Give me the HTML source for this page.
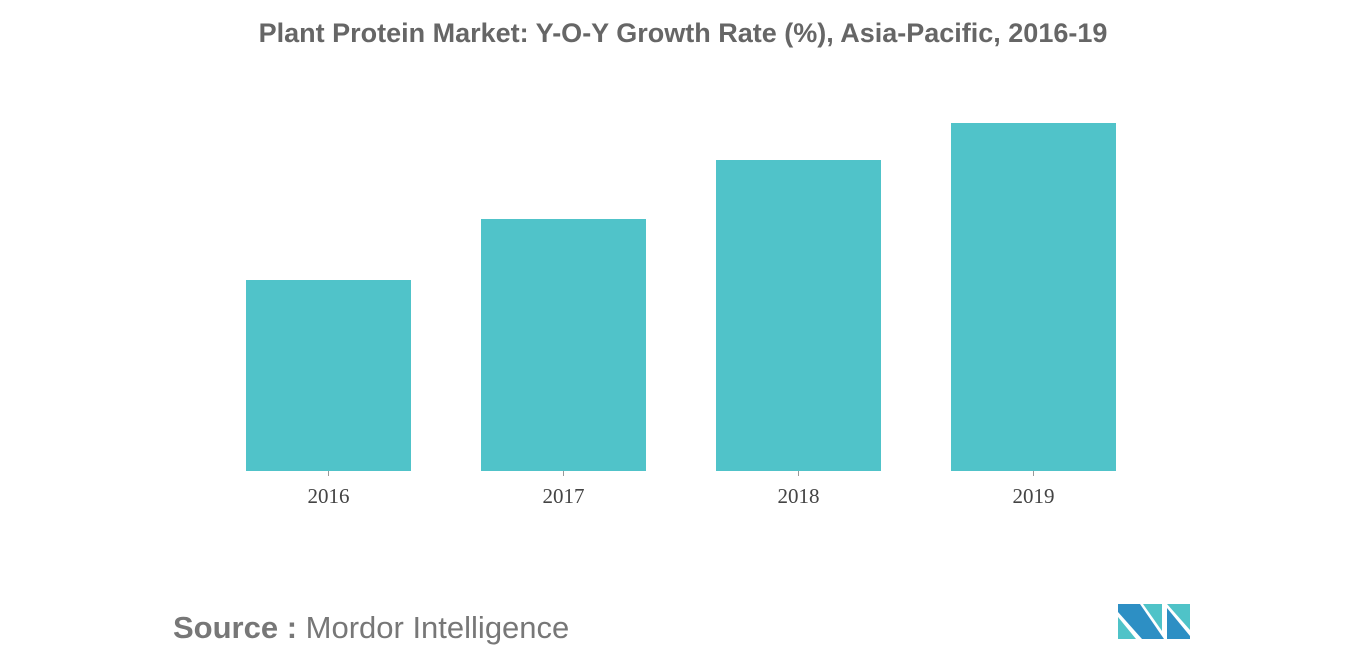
<!DOCTYPE html>
<html><head><meta charset="utf-8"><style>
body{margin:0;width:1366px;height:655px;background:#fff;overflow:hidden;font-family:"Liberation Sans",sans-serif}
</style></head><body>
<svg width="1366" height="655">
<text x="683" y="42" text-anchor="middle" font-size="27" font-weight="bold" fill="#666">Plant Protein Market: Y-O-Y Growth Rate (%), Asia-Pacific, 2016-19</text>
<g id="bars"></g>
<text x="173" y="638" font-size="31" fill="#777"><tspan font-weight="bold">Source :</tspan> Mordor Intelligence</text>
<g>
<polygon points="1118,604 1140,604 1164,639 1142,639 1118,612" fill="#2d8fc4"/>
<polygon points="1118,617 1136,639 1118,639" fill="#4fc3c8"/>
<polygon points="1143,604 1162,604 1162,631" fill="#4fc3c8"/>
<polygon points="1167,604 1190,604 1190,630" fill="#4fc3c8"/>
<polygon points="1167,608 1190,636 1190,639 1167,639" fill="#2d8fc4"/>
</g>
</svg>
<script>
const categories=["2016","2017","2018","2019"];
const values=[1.91,2.52,3.11,3.48];
const yMax=3.5;
const g=document.getElementById('bars');
const ns="http://www.w3.org/2000/svg";
const x0=246,step=235,bw=165,base=471,plotH=350;
function xs(i){return x0+i*step;}
function ys(v){return base-v/yMax*plotH;}
categories.forEach((c,i)=>{
 const r=document.createElementNS(ns,'rect');
 
 
 r.setAttribute('x',xs(i));r.setAttribute('y',ys(values[i]));
 r.setAttribute('width',bw);r.setAttribute('height',base-ys(values[i]));
 r.setAttribute('fill','#50c3c9');g.appendChild(r);
 const t=document.createElementNS(ns,'line');
 
 
 t.setAttribute('x1',xs(i)+bw/2);t.setAttribute('x2',xs(i)+bw/2);
 t.setAttribute('y1',base);t.setAttribute('y2',base+5);t.setAttribute('stroke','#999');g.appendChild(t);
 const l=document.createElementNS(ns,'text');
 
 
 l.setAttribute('x',xs(i)+bw/2);l.setAttribute('y',503);
 l.setAttribute('text-anchor','middle');l.setAttribute('font-size','21');
 l.setAttribute('font-family','Liberation Serif, serif');l.setAttribute('fill','#444');
 l.textContent=c;g.appendChild(l);
});
</script>
</body></html>
